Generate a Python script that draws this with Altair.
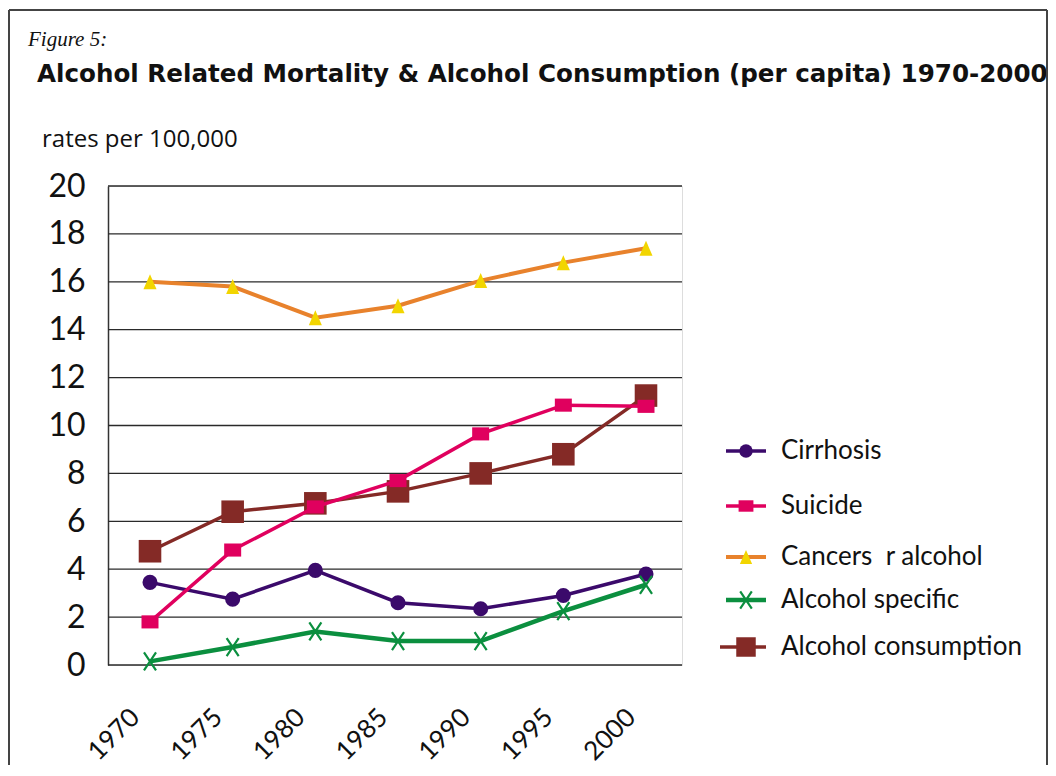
import altair as alt
import pandas as pd

# ---------------- data ----------------
years = ["1970", "1975", "1980", "1985", "1990", "1995", "2000"]
cirrhosis = [3.45, 2.75, 3.95, 2.6, 2.35, 2.9, 3.8]
suicide = [1.8, 4.8, 6.6, 7.7, 9.65, 10.85, 10.8]
cancers = [16.0, 15.8, 14.5, 15.0, 16.05, 16.8, 17.4]
alc_specific = [0.15, 0.75, 1.4, 1.0, 1.0, 2.25, 3.35]
alc_consumption = [4.75, 6.4, 6.75, 7.25, 8.0, 8.8, 11.25]
series_names = ["Cirrhosis", "Suicide", "Cancers \u00a0r alcohol",
                "Alcohol specific", "Alcohol consumption"]
y_ticks = [0, 2, 4, 6, 8, 10, 12, 14, 16, 18, 20]

fig_label = "Figure 5:"
title_text = "Alcohol Related Mortality & Alcohol Consumption (per capita) 1970-2000"
y_title = "rates per 100,000"

values = [cirrhosis, suicide, cancers, alc_specific, alc_consumption]
rows = []
for name, vals in zip(series_names, values):
    for yr, v in zip(years, vals):
        rows.append({"year": yr, "value": v, "series": name})
df = pd.DataFrame(rows)

X_SHAPE = "M-0.67,-1L0.67,1M0.67,-1L-0.67,1"
RECT_SHAPE = "M-1,-0.77H1V0.77H-1Z"
TRI_SHAPE = "M0,-1L0.87,1L-0.87,1Z"

styles = {
    "Cirrhosis": dict(line="#3b0a6b", width=3.5, shape="circle", size=227, lsize=180, fill="#3b0a6b", filled=True),
    "Suicide": dict(line="#e0005e", width=3.5, shape=RECT_SHAPE, size=289, lsize=220, fill="#e0005e", filled=True),
    "Cancers \u00a0r alcohol": dict(line="#e8822c", width=4, shape=TRI_SHAPE, size=225, lsize=200, fill="#f2d500", filled=True),
    "Alcohol specific": dict(line="#0b8f3f", width=4.5, shape=X_SHAPE, size=324, lsize=300, fill="#0b8f3f", filled=False),
    "Alcohol consumption": dict(line="#842a26", width=3.5, shape="square", size=510, lsize=380, fill="#842a26", filled=True),
}

FONT = "Lato"

# horizontal gridlines drawn from the tick list
grid = alt.Chart(pd.DataFrame({"tick": y_ticks})).mark_rule(color="#2a2a2a", strokeWidth=1.3).encode(
    y=alt.Y("tick:Q", scale=alt.Scale(domain=[0, 20], nice=False),
            axis=alt.Axis(title=None, values=y_ticks, labelFontSize=32, labelFont=FONT,
                          labelColor="#111", labelPadding=23, ticks=False,
                          domain=True, domainColor="#333", domainWidth=1.5, grid=False)),
    x=alt.value(0), x2=alt.value(574))

base = alt.Chart(df)
x_enc = alt.X("year:O", sort=years, scale=alt.Scale(range=[42, 538], padding=0),
              axis=alt.Axis(title=None, labelAngle=-45, labelAlign="right", labelBaseline="middle",
                            labelFontSize=26, labelFont=FONT, labelColor="#111", labelPadding=48,
                            labelOffset=-15, domain=False, ticks=False, grid=False))

layers = [grid]
draw_order = ["Cirrhosis", "Alcohol specific", "Cancers \u00a0r alcohol", "Alcohol consumption", "Suicide"]
for i, name in enumerate(draw_order):
    s = styles[name]
    sub = base.transform_filter(alt.datum.series == name)
    if i == 0:
        line = sub.mark_line(color=s["line"], strokeWidth=s["width"]).encode(x=x_enc, y="value:Q")
    else:
        line = sub.mark_line(color=s["line"], strokeWidth=s["width"]).encode(x="year:O", y="value:Q")
    if s["filled"]:
        pt = sub.mark_point(shape=s["shape"], size=s["size"], filled=True, fill=s["fill"],
                            opacity=1, strokeWidth=0).encode(x="year:O", y="value:Q")
    else:
        pt = sub.mark_point(shape=s["shape"], size=s["size"], filled=False, stroke=s["fill"],
                            opacity=1, strokeWidth=2.2).encode(x="year:O", y="value:Q")
    layers += [line, pt]

# -------- legend (manual) --------
leg_y = [265, 320, 371, 414, 461]
for name, ly in zip(series_names, leg_y):
    s = styles[name]
    ld = alt.Chart(pd.DataFrame({"label": [name]}))
    x0 = 612 if name == "Alcohol consumption" else 618
    layers.append(ld.mark_rule(color=s["line"], strokeWidth=s["width"]).encode(
        x=alt.value(x0), x2=alt.value(658), y=alt.value(ly)))
    if s["filled"]:
        layers.append(ld.mark_point(shape=s["shape"], size=s["lsize"],
                                    filled=True, fill=s["fill"], opacity=1, strokeWidth=0).encode(
            x=alt.value(638), y=alt.value(ly)))
    else:
        layers.append(ld.mark_point(shape=s["shape"], size=s["lsize"], filled=False, stroke=s["fill"],
                                    opacity=1, strokeWidth=2.2).encode(x=alt.value(638), y=alt.value(ly)))
    layers.append(ld.mark_text(align="left", baseline="middle", font=FONT, fontSize=26, color="#111").encode(
        x=alt.value(673), y=alt.value(ly), text="label:N"))

# -------- titles / frame --------
tdf = alt.Chart(pd.DataFrame({"a": [fig_label], "b": [title_text], "c": [y_title]}))
layers.append(tdf.mark_text(align="left", baseline="alphabetic", font="Liberation Serif", fontStyle="italic",
                            fontSize=21, color="#111").encode(x=alt.value(-80), y=alt.value(-140), text="a:N"))
layers.append(tdf.mark_text(align="left", baseline="alphabetic", font="DejaVu Sans", fontWeight="bold",
                            fontSize=24.6, color="#111").encode(x=alt.value(-71), y=alt.value(-104), text="b:N"))
layers.append(tdf.mark_text(align="left", baseline="alphabetic", font="Open Sans",
                            fontSize=24, color="#111").encode(x=alt.value(-66), y=alt.value(-39), text="c:N"))

frame = alt.Chart(pd.DataFrame({"k": [0]}))
layers.append(frame.mark_rule(color="#444", strokeWidth=2).encode(x=alt.value(-99), x2=alt.value(939), y=alt.value(-176)))
layers.append(frame.mark_rule(color="#444", strokeWidth=2).encode(x=alt.value(-99), y=alt.value(-176), y2=alt.value(600)))
layers.append(frame.mark_rule(color="#444", strokeWidth=2).encode(x=alt.value(939), y=alt.value(-176), y2=alt.value(600)))

chart = alt.layer(*layers).properties(
    width=574, height=479,
    autosize=alt.AutoSizeParams(type="none"),
    padding={"left": 100, "top": 178, "right": 366, "bottom": 100},
).configure_view(strokeWidth=0, stroke="transparent").configure(background="white")

chart.save("out.html", embed_options={"renderer": "svg", "actions": False})
